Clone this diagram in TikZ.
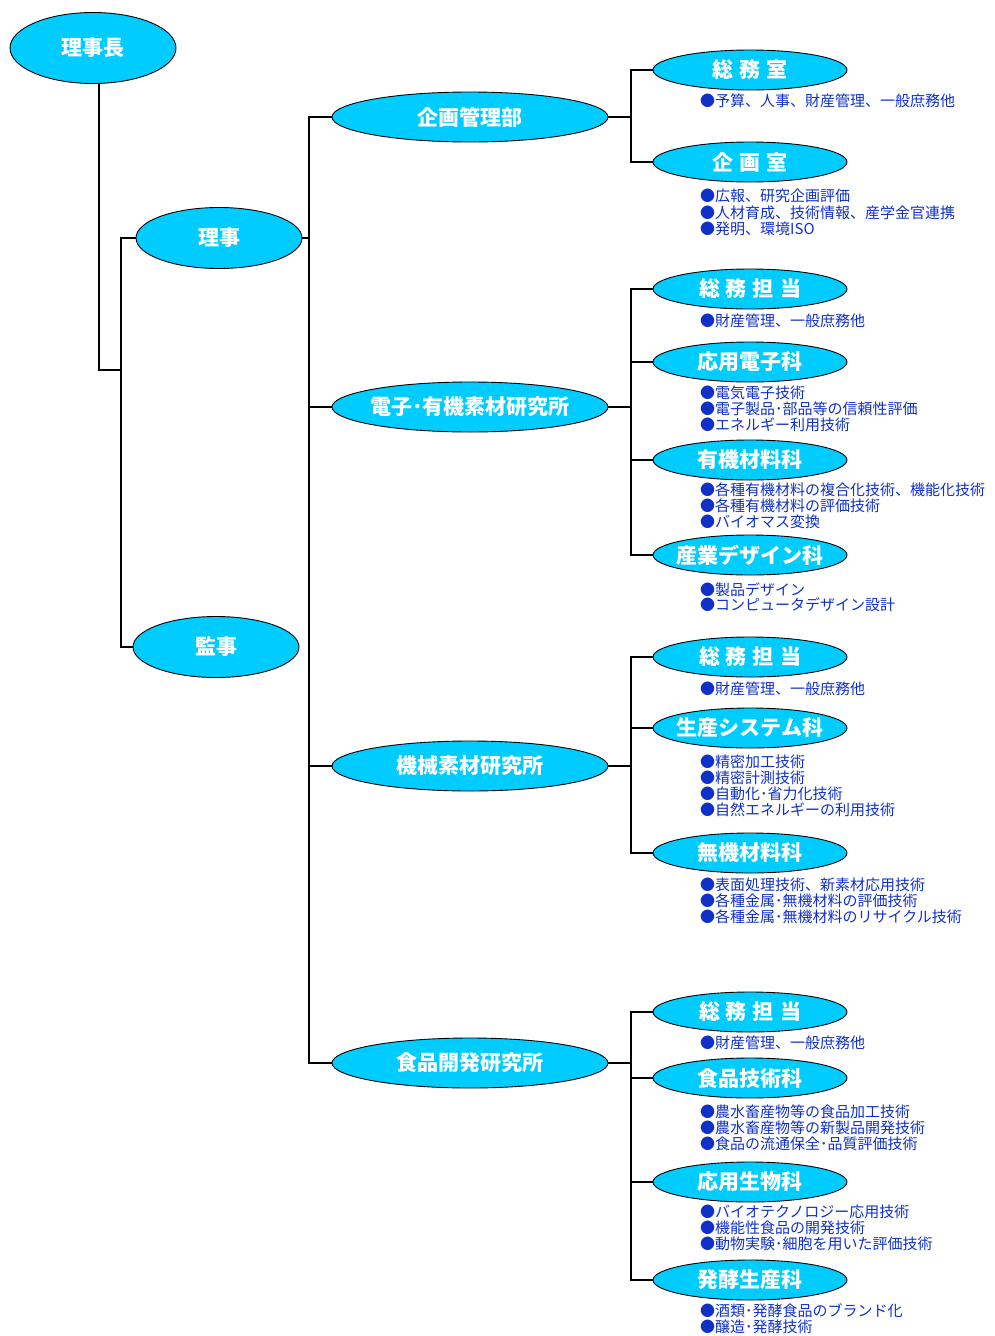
\documentclass[tikz,border=0pt]{standalone}
\usepackage{fontspec}
\newfontfamily\cjk{Noto Sans CJK JP}
\usetikzlibrary{shapes.geometric}
\definecolor{ovalfill}{RGB}{0,204,255}
\definecolor{descblue}{RGB}{16,48,200}
\newcommand{\gapx}{\hspace{6pt}}
\begin{document}
\begin{tikzpicture}[x=1pt,y=-1pt,
  oval/.style={ellipse,draw=black,line width=0.9pt,fill=ovalfill,inner xsep=-25pt,inner ysep=0pt,text=white,font=\cjk\bfseries\fontsize{21}{21}\selectfont},
  topoval/.style={oval,minimum width=166pt,minimum height=71pt},
  sideoval/.style={oval,minimum width=166pt,minimum height=61pt},
  instoval/.style={oval,minimum width=276pt,minimum height=50pt},
  secoval/.style={oval,minimum width=194pt,minimum height=40pt},
  desc/.style={anchor=west,inner sep=0pt,text=descblue,font=\cjk\fontsize{15}{16}\selectfont},
  conn/.style={draw=black,line width=1.7pt}
]
\useasboundingbox (0,0) rectangle (995,1336);
% top level
\node[topoval] (chair) at (93,48) {理事長};
\node[sideoval] (riji) at (219,238) {理事};
\node[sideoval] (kanji) at (216,647) {監事};
% institutes
\node[instoval] (kikaku) at (470,117) {企画管理部};
\node[instoval] (denshi) at (470,407) {電子･有機素材研究所};
\node[instoval] (kikai) at (470,766) {機械素材研究所};
\node[instoval] (shoku) at (470,1063) {食品開発研究所};
% sections
\node[secoval] (a1) at (750,70) {総\gapx 務\gapx 室};
\node[secoval] (a2) at (750,162) {企\gapx 画\gapx 室};
\node[secoval] (b1) at (750,289) {総\gapx 務\gapx 担\gapx 当};
\node[secoval] (b2) at (750,362) {応用電子科};
\node[secoval] (b3) at (750,460) {有機材料科};
\node[secoval] (b4) at (750,555) {産業デザイン科};
\node[secoval] (c1) at (750,657) {総\gapx 務\gapx 担\gapx 当};
\node[secoval] (c2) at (750,728) {生産システム科};
\node[secoval] (c3) at (750,853) {無機材料科};
\node[secoval] (d1) at (750,1012) {総\gapx 務\gapx 担\gapx 当};
\node[secoval] (d2) at (750,1078) {食品技術科};
\node[secoval] (d3) at (750,1182) {応用生物科};
\node[secoval] (d4) at (750,1280) {発酵生産科};
% bus coordinates
\coordinate (bus0) at (121,0);
\coordinate (j0) at (121,370);
\coordinate (bus1) at (309,0);
\coordinate (bus2) at (631,0);
% connectors
\draw[conn] ([xshift=6pt]chair.south) |- (j0);
\draw[conn] (riji.west) -| (bus0 |- kanji.west) -- (kanji.west);
\draw[conn] (riji.east) -- (riji.east -| bus1);
\draw[conn] (kikaku.west) -| (bus1 |- shoku.west) -- (shoku.west);
\draw[conn] (denshi.west) -- (denshi.west -| bus1);
\draw[conn] (kikai.west) -- (kikai.west -| bus1);
\draw[conn] (kikaku.east) -- (kikaku.east -| bus2);
\draw[conn] (a1.west) -| (bus2 |- a2.west) -- (a2.west);
\draw[conn] (denshi.east) -- (denshi.east -| bus2);
\draw[conn] (b1.west) -| (bus2 |- b4.west) -- (b4.west);
\draw[conn] (bus2 |- b2.west) -- (b2.west);
\draw[conn] (bus2 |- b3.west) -- (b3.west);
\draw[conn] (kikai.east) -- (kikai.east -| bus2);
\draw[conn] (c1.west) -| (bus2 |- c3.west) -- (c3.west);
\draw[conn] (bus2 |- c2.west) -- (c2.west);
\draw[conn] (shoku.east) -- (shoku.east -| bus2);
\draw[conn] (d1.west) -| (bus2 |- d4.west) -- (d4.west);
\draw[conn] (bus2 |- d2.west) -- (d2.west);
\draw[conn] (bus2 |- d3.west) -- (d3.west);
% descriptions
\node[desc] (ta1) at (700,101) {●予算、人事、財産管理、一般庶務他};
\node[desc] (ta2) at (700,196) {●広報、研究企画評価};
\node[desc] (ta3) at (700,213) {●人材育成、技術情報、産学金官連携};
\node[desc] (ta4) at (700,229) {●発明、環境ISO};
\node[desc] (tb1) at (700,321) {●財産管理、一般庶務他};
\node[desc] (tb2) at (700,393) {●電気電子技術};
\node[desc] (tb3) at (700,409) {●電子製品･部品等の信頼性評価};
\node[desc] (tb4) at (700,425) {●エネルギー利用技術};
\node[desc] (tb5) at (700,490) {●各種有機材料の複合化技術、機能化技術};
\node[desc] (tb6) at (700,506) {●各種有機材料の評価技術};
\node[desc] (tb7) at (700,522) {●バイオマス変換};
\node[desc] (tb8) at (700,590) {●製品デザイン};
\node[desc] (tb9) at (700,605) {●コンピュータデザイン設計};
\node[desc] (tc1) at (700,689) {●財産管理、一般庶務他};
\node[desc] (tc2) at (700,762) {●精密加工技術};
\node[desc] (tc3) at (700,778) {●精密計測技術};
\node[desc] (tc4) at (700,794) {●自動化･省力化技術};
\node[desc] (tc5) at (700,810) {●自然エネルギーの利用技術};
\node[desc] (tc6) at (700,885) {●表面処理技術、新素材応用技術};
\node[desc] (tc7) at (700,901) {●各種金属･無機材料の評価技術};
\node[desc] (tc8) at (700,917) {●各種金属･無機材料のリサイクル技術};
\node[desc] (td1) at (700,1043) {●財産管理、一般庶務他};
\node[desc] (td2) at (700,1112) {●農水畜産物等の食品加工技術};
\node[desc] (td3) at (700,1128) {●農水畜産物等の新製品開発技術};
\node[desc] (td4) at (700,1144) {●食品の流通保全･品質評価技術};
\node[desc] (td5) at (700,1212) {●バイオテクノロジー応用技術};
\node[desc] (td6) at (700,1228) {●機能性食品の開発技術};
\node[desc] (td7) at (700,1244) {●動物実験･細胞を用いた評価技術};
\node[desc] (td8) at (700,1311) {●酒類･発酵食品のブランド化};
\node[desc] (td9) at (700,1327) {●醸造･発酵技術};
\end{tikzpicture}
\end{document}
